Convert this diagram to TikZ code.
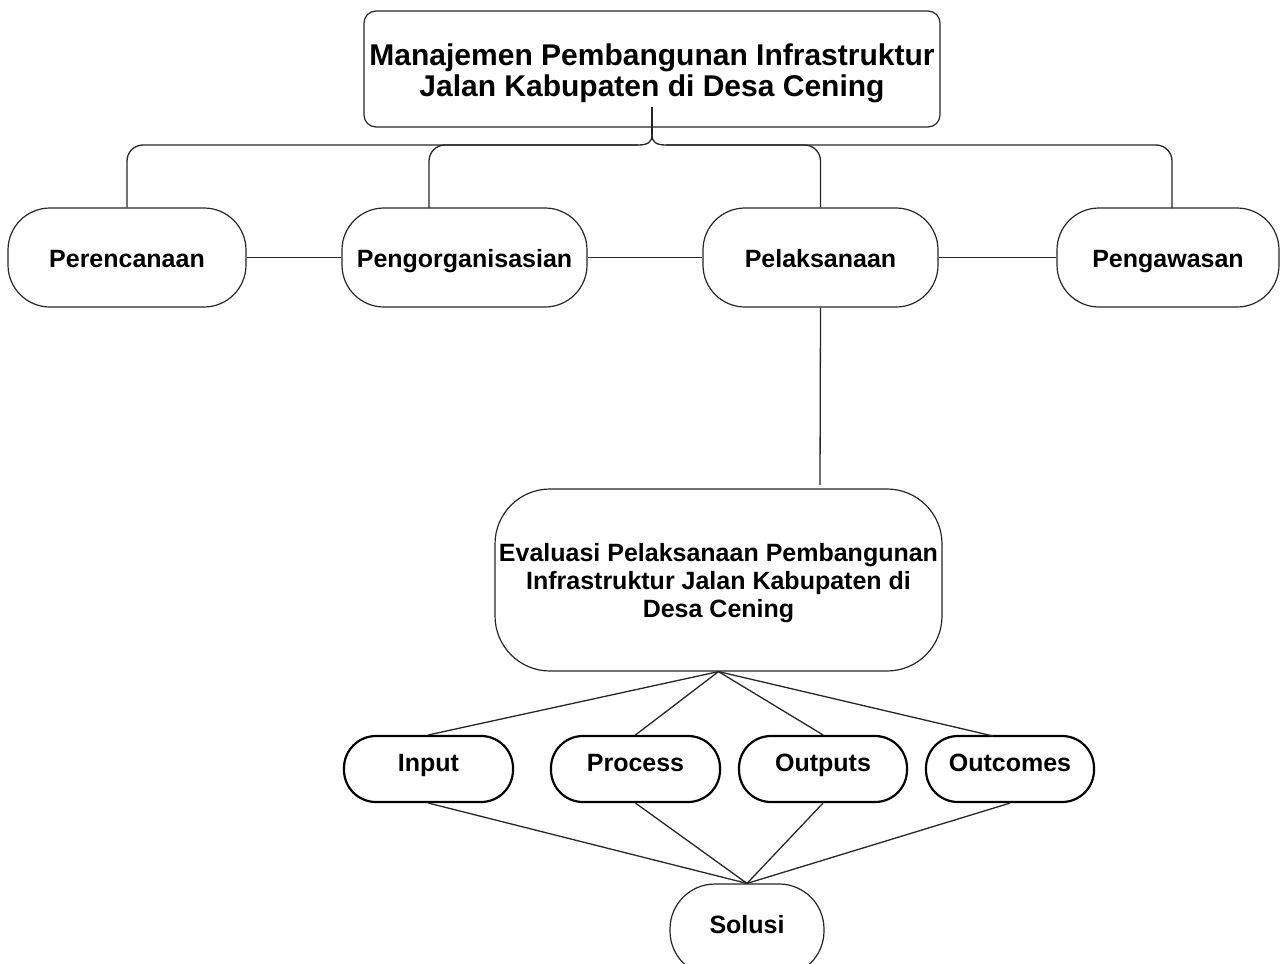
\documentclass[tikz,border=0pt]{standalone}
\usepackage{fontspec}
\setmainfont{Liberation Sans}
\begin{document}
\begin{tikzpicture}[x=1pt,y=-1pt,
  every node/.style={font=\bfseries},
  base/.style={draw=black!85, line width=1.2pt, fill=white, align=center, inner sep=0pt},
  titlebox/.style={base, rounded corners=12pt, minimum width=576pt, minimum height=116pt, font=\bfseries\fontsize{30}{30}\selectfont},
  phase/.style={base, rounded corners=42pt, minimum height=99pt, text height=19pt, text depth=0pt, font=\bfseries\fontsize{25}{28}\selectfont},
  evalbox/.style={base, rounded corners=55pt, minimum width=447pt, minimum height=182pt, font=\bfseries\fontsize{25}{28}\selectfont},
  smallbox/.style={base, line width=2.2pt, draw=black, rounded corners=32pt, minimum height=66pt, text height=18pt, text depth=0pt, font=\bfseries\fontsize{25}{28}\selectfont},
  conn/.style={draw=black!85, line width=1.3pt}
]
\useasboundingbox (0,0) rectangle (1281,963);

\node[titlebox] (top) at (652,69) {\raisebox{3.3pt}[0pt][0pt]{\begin{tabular}[t]{@{}c@{}}Manajemen Pembangunan Infrastruktur\\Jalan Kabupaten di Desa Cening\end{tabular}}};

\node[phase, minimum width=238pt] (perc) at (127,257.5) {Perencanaan};
\node[phase, minimum width=245pt] (porg) at (464.5,257.5) {Pengorganisasian};
\node[phase, minimum width=235pt] (pel) at (820.5,257.5) {Pelaksanaan};
\node[phase, minimum width=222pt] (pengaw) at (1168,257.5) {Pengawasan};

\node[evalbox] (ev) at (718.5,580) {\raisebox{19pt}[0pt][0pt]{\begin{tabular}[t]{@{}c@{}}Evaluasi Pelaksanaan Pembangunan\\Infrastruktur Jalan Kabupaten di\\Desa Cening\end{tabular}}};

\node[smallbox, minimum width=169pt] (inp) at (428.5,769) {\raisebox{7pt}{Input}};
\node[smallbox, minimum width=169pt] (proc) at (635.5,769) {\raisebox{7pt}{Process}};
\node[smallbox, minimum width=168pt] (outp) at (823,769) {\raisebox{7pt}{Outputs}};
\node[smallbox, minimum width=168pt] (outc) at (1010,769) {\raisebox{7pt}{Outcomes}};

\node[base, rounded corners=45pt, minimum width=154pt, minimum height=92pt, text height=18pt, text depth=0pt, font=\bfseries\fontsize{25}{28}\selectfont] (sol) at (747,930) {\raisebox{6pt}{Solusi}};

% brace connector from title box
\coordinate (tstem) at (652,107);
\coordinate (bmid) at (652,135);
\coordinate (bl) at (638,145);
\coordinate (br) at (666,145);
\coordinate (porgtop) at (429,208);
\coordinate (pawtop) at (1172,208);
\draw[conn] (tstem) -- (bmid);
\draw[conn] (bmid) .. controls (652,142) and (648,145) .. (bl);
\draw[conn] (bmid) .. controls (652,142) and (656,145) .. (br);
\draw[conn, rounded corners=16pt] (bl) -| (perc.north);
\draw[conn, rounded corners=16pt] (bl) -| (porgtop);
\draw[conn, rounded corners=16pt] (br) -| (pel.north);
\draw[conn, rounded corners=16pt] (br) -| (pawtop);

% horizontal links
\draw[conn] (perc.east) -- (porg.west);
\draw[conn] (porg.east) -- (pel.west);
\draw[conn] (pel.east) -- (pengaw.west);

% down to evaluation
\coordinate (evtop) at (820,485);
\draw[conn] (pel.south) -- (evtop);

% fan out
\coordinate (outctop) at (993,736);
\draw[conn] (ev.south) -- (inp.north);
\draw[conn] (ev.south) -- (proc.north);
\draw[conn] (ev.south) -- (outp.north);
\draw[conn] (ev.south) -- (outctop);

% fan in
\draw[conn] (inp.south) -- (sol.north);
\draw[conn] (proc.south) -- (sol.north);
\draw[conn] (outp.south) -- (sol.north);
\draw[conn] (outc.south) -- (sol.north);
\end{tikzpicture}
\end{document}
